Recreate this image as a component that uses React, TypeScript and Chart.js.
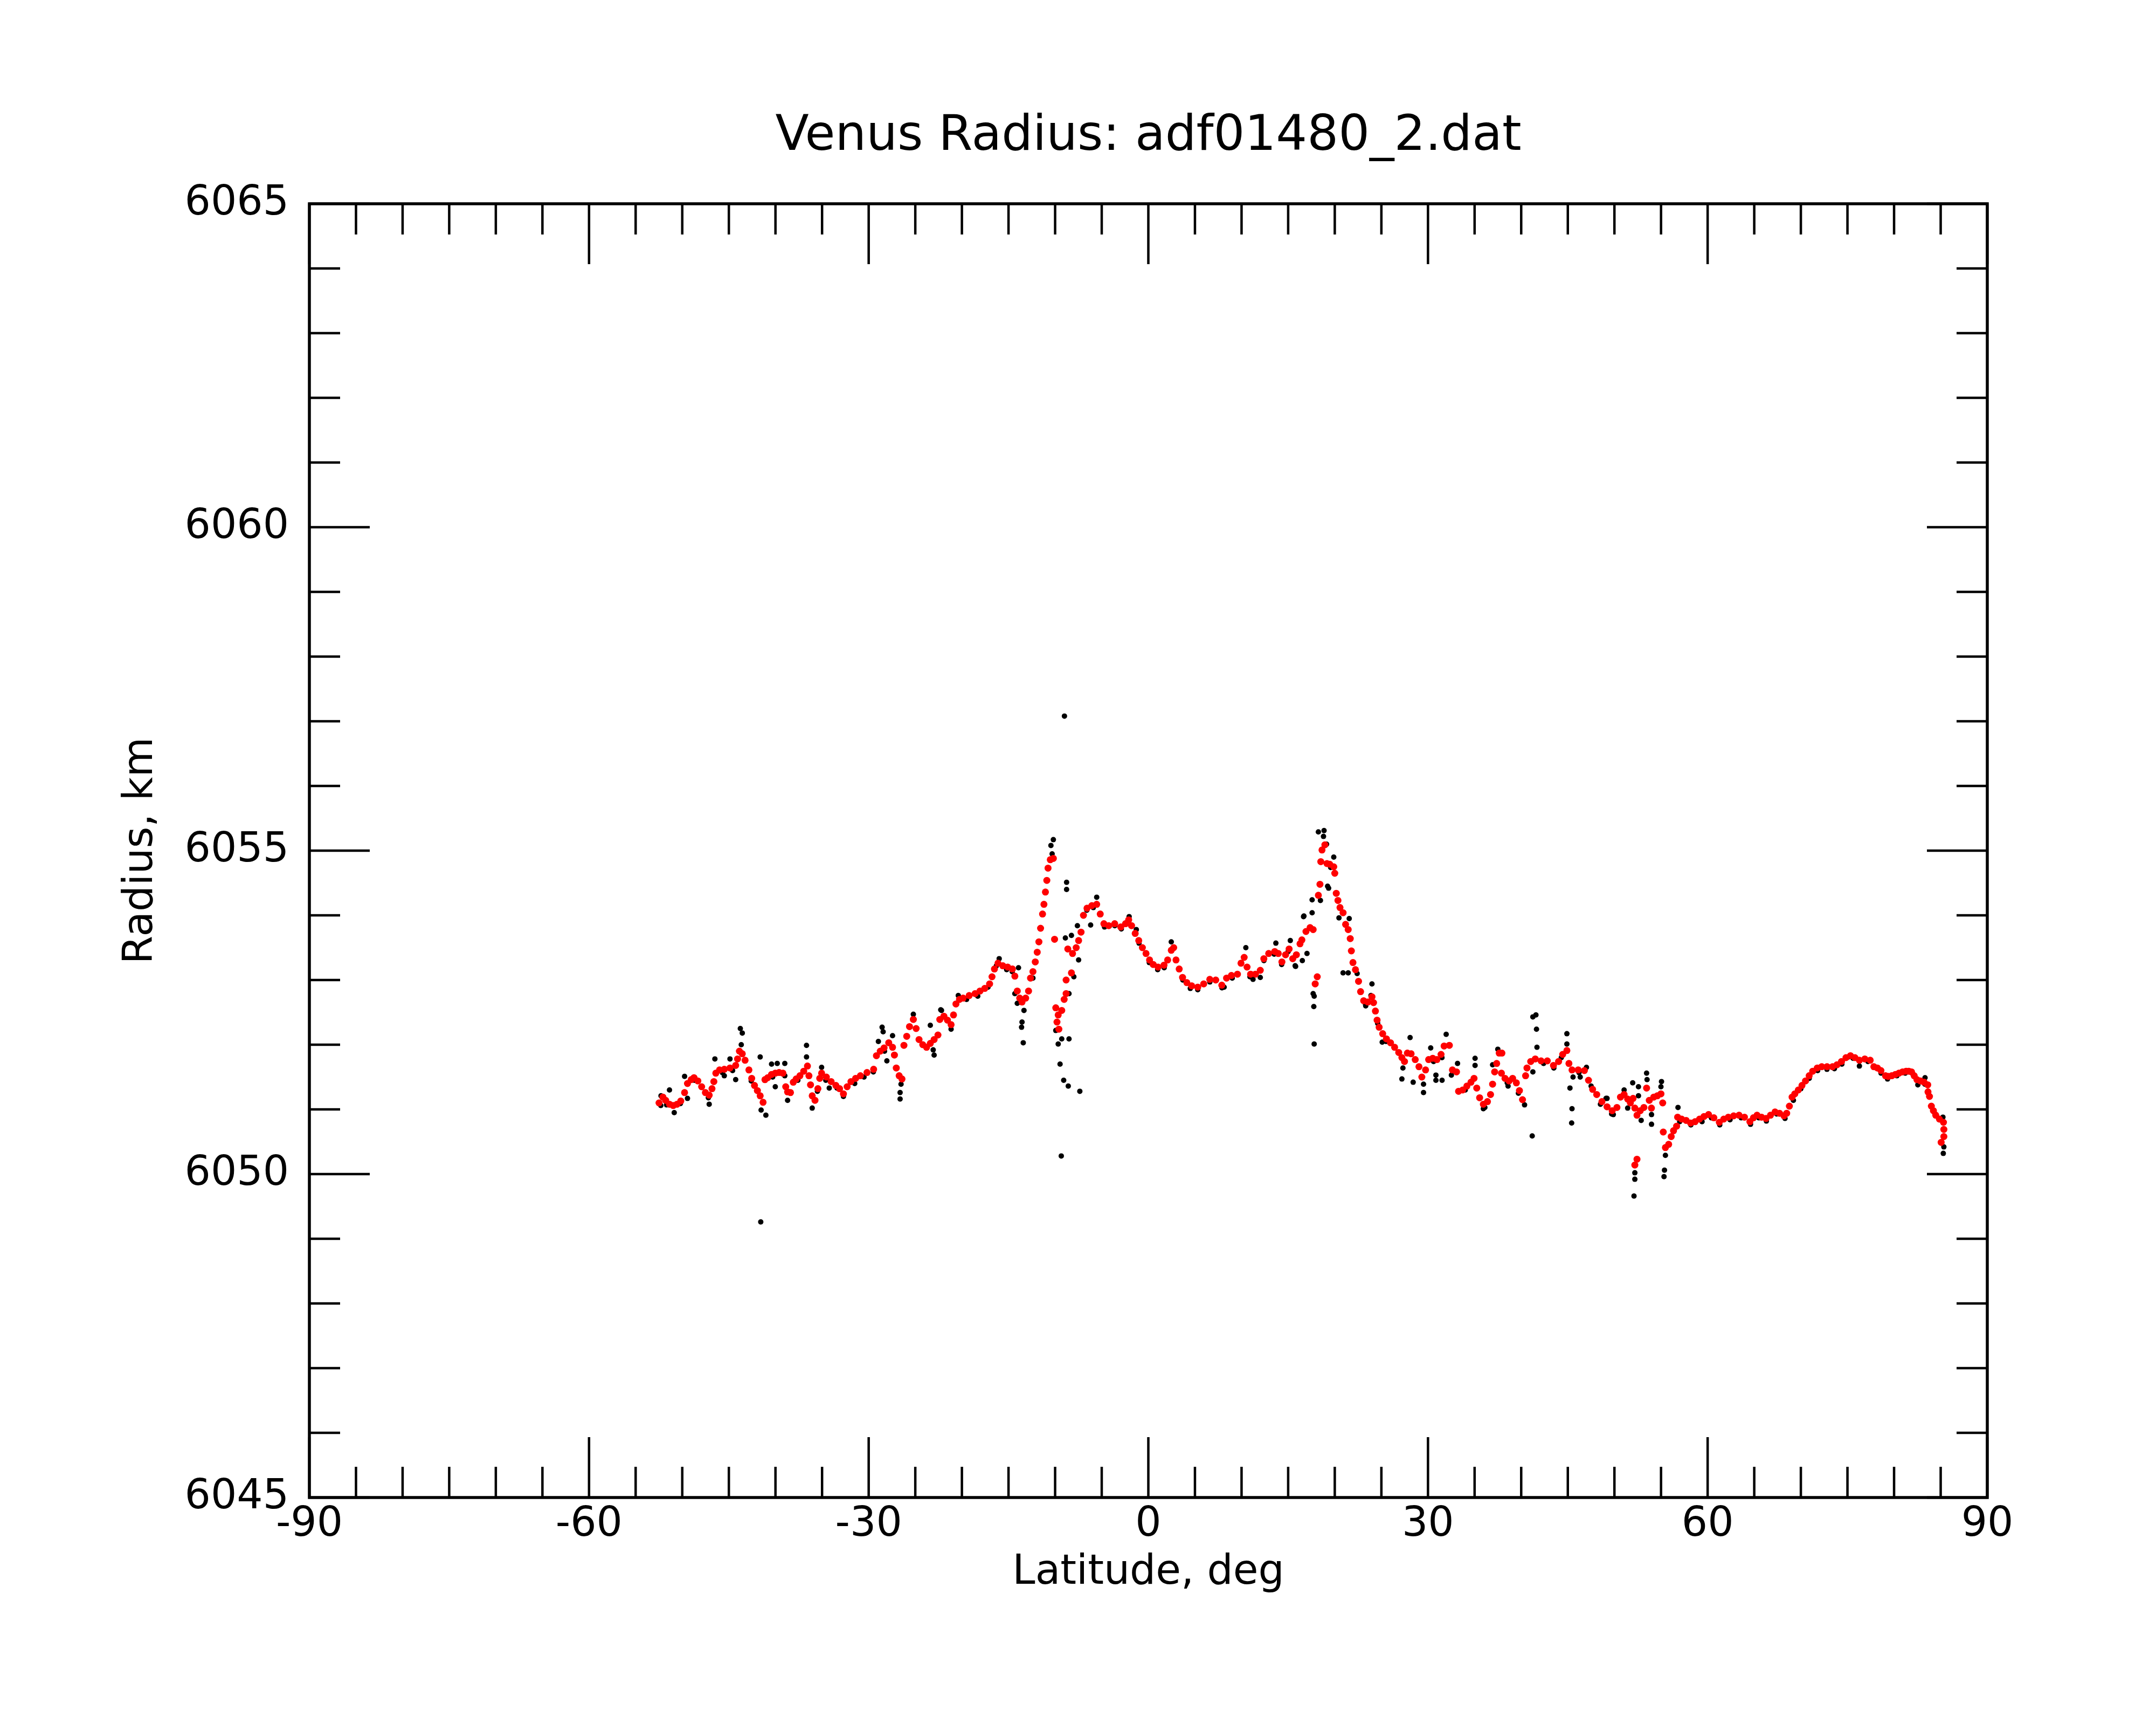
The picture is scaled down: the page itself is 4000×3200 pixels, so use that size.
import { useEffect, useRef } from 'react'
import { Chart, registerables } from 'chart.js'

Chart.register(...registerables)

// smoothed profile (red)
const redLat = [
  -52.49, -52.08, -51.78, -51.37, -50.97, -50.56, -50.16, -49.75, -49.44, -49.04,
  -48.74, -48.33, -47.92, -47.52, -47.11, -46.81, -46.61, -46.40, -46.00, -45.49,
  -44.88, -44.27, -44.07, -43.87, -43.56, -43.26, -42.85, -42.55, -42.25, -41.94,
  -41.64, -41.33, -41.13, -40.83, -40.42, -40.02, -39.61, -39.20, -38.90, -38.70,
  -38.39, -38.09, -37.78, -37.38, -36.97, -36.57, -36.41, -36.24, -36.06, -35.76,
  -35.45, -35.25, -35.05, -34.54, -34.03, -33.52, -33.12, -32.71, -32.31, -31.90,
  -31.40, -30.89, -30.18, -29.47, -29.17, -28.76, -28.35, -27.85, -27.44, -27.24,
  -27.04, -26.73, -26.43, -26.22, -25.92, -25.62, -25.21, -24.91, -24.60, -24.20,
  -23.79, -23.39, -22.98, -22.57, -22.37, -21.93, -21.55, -21.16, -20.90, -20.64,
  -20.26, -19.87, -19.22, -18.58, -18.06, -17.55, -17.03, -16.77, -16.51, -16.13,
  -15.61, -15.09, -14.58, -14.32, -14.06, -13.80, -13.55, -13.16, -12.85, -12.64,
  -12.38, -12.13, -11.92, -11.74, -11.56, -11.35, -11.20, -11.04, -10.89, -10.76,
  -10.52, -10.19, -10.06, -9.93, -9.80, -9.67, -9.60, -9.29, -9.03, -8.82,
  -8.82, -8.64, -8.25, -8.13, -7.74, -7.48, -7.22, -6.96, -6.58, -6.06,
  -5.54, -5.16, -4.77, -4.25, -3.61, -2.96, -2.45, -2.11, -1.80, -1.41,
  -1.03, -0.64, -0.25, 0.13, 0.52, 1.04, 1.68, 2.07, 2.46, 2.72,
  2.97, 3.31, 3.67, 4.13, 4.65, 5.30, 5.94, 6.59, 7.23, 7.88,
  8.39, 8.91, 9.56, 9.94, 10.28, 10.59, 10.97, 11.49, 12.01, 12.39,
  12.91, 13.56, 13.94, 14.33, 14.72, 15.10, 15.49, 15.88, 16.27, 16.47,
  16.91, 17.35, 17.68, 17.90, 18.12, 18.24, 18.41, 18.50, 18.63, 18.94,
  19.16, 19.45, 19.89, 20.00, 20.16, 20.34, 20.56, 20.89, 21.16, 21.44,
  21.66, 21.78, 21.95, 22.22, 22.55, 22.77, 23.10, 23.55, 23.99, 24.16,
  24.36, 24.54, 24.76, 25.14, 25.54, 25.98, 26.42, 26.86, 27.20, 27.48,
  27.79, 28.19, 28.63, 29.03, 29.34, 29.74, 30.07, 30.51, 30.96, 31.40,
  31.73, 32.29, 32.62, 33.06, 33.28, 33.72, 34.17, 34.61, 34.94, 35.23,
  35.54, 35.94, 36.38, 36.71, 36.93, 37.15, 37.37, 37.64, 37.93, 37.88,
  38.26, 38.70, 39.08, 39.48, 39.81, 40.14, 40.47, 40.62, 41.02, 41.51,
  42.13, 42.80, 43.46, 44.01, 44.45, 44.90, 45.12, 45.45, 46.11, 46.78,
  47.22, 47.66, 48.10, 48.66, 49.21, 49.76, 50.27, 50.65, 51.04, 51.42,
  51.71, 52.00, 52.19, 52.42, 52.77, 53.16, 53.45, 53.74, 53.97, 54.22,
  54.60, 54.99, 55.18, 52.19, 52.42, 55.24, 55.47, 55.82, 56.09, 56.34,
  56.67, 56.78, 57.21, 57.69, 58.17, 58.65, 59.13, 59.61, 60.10, 60.67,
  61.25, 61.73, 62.22, 62.79, 63.37, 63.95, 64.53, 64.91, 65.30, 65.78,
  66.26, 66.74, 67.23, 67.71, 68.19, 68.48, 68.77, 69.06, 69.35, 69.73,
  70.12, 70.50, 70.89, 71.27, 71.76, 72.24, 72.81, 73.40, 73.88, 74.36,
  74.84, 75.32, 75.80, 76.28, 76.86, 77.44, 77.83, 78.21, 78.59, 79.08,
  79.37, 79.75, 80.14, 80.52, 80.91, 81.29, 81.58, 81.87, 82.16, 82.45,
  82.83, 83.22, 83.61, 83.64, 83.80, 84.00, 84.22, 84.47, 84.86, 85.30,
  85.34, 85.34, 85.05,
]
const redRadius = [
  6051.10, 6051.19, 6051.14, 6051.08, 6051.06, 6051.08, 6051.13, 6051.26, 6051.40, 6051.46,
  6051.49, 6051.44, 6051.35, 6051.26, 6051.22, 6051.32, 6051.43, 6051.56, 6051.61, 6051.62,
  6051.64, 6051.68, 6051.78, 6051.90, 6051.86, 6051.76, 6051.61, 6051.48, 6051.37, 6051.29,
  6051.21, 6051.11, 6051.46, 6051.49, 6051.54, 6051.56, 6051.57, 6051.56, 6051.35, 6051.27,
  6051.26, 6051.42, 6051.47, 6051.52, 6051.59, 6051.67, 6051.52, 6051.38, 6051.21, 6051.14,
  6051.32, 6051.48, 6051.56, 6051.50, 6051.43, 6051.37, 6051.32, 6051.24, 6051.35, 6051.43,
  6051.48, 6051.52, 6051.57, 6051.62, 6051.83, 6051.90, 6051.95, 6052.03, 6051.96, 6051.84,
  6051.64, 6051.52, 6051.47, 6051.99, 6052.13, 6052.28, 6052.39, 6052.25, 6052.08, 6052.00,
  6051.96, 6052.02, 6052.08, 6052.15, 6052.39, 6052.44, 6052.38, 6052.31, 6052.46, 6052.63,
  6052.70, 6052.72, 6052.76, 6052.79, 6052.83, 6052.87, 6052.94, 6053.05, 6053.17, 6053.26,
  6053.22, 6053.20, 6053.17, 6053.06, 6052.83, 6052.72, 6052.66, 6052.72, 6052.83, 6053.03,
  6053.13, 6053.28, 6053.43, 6053.59, 6053.80, 6054.02, 6054.17, 6054.36, 6054.54, 6054.73,
  6054.86, 6054.88, 6053.63, 6052.57, 6052.35, 6052.46, 6052.24, 6052.53, 6052.70, 6052.79,
  6053.00, 6053.48, 6053.11, 6053.41, 6053.50, 6053.61, 6053.74, 6054.00, 6054.11, 6054.15,
  6054.17, 6054.02, 6053.87, 6053.84, 6053.87, 6053.82, 6053.87, 6053.93, 6053.84, 6053.72,
  6053.61, 6053.50, 6053.41, 6053.31, 6053.24, 6053.20, 6053.23, 6053.31, 6053.46, 6053.50,
  6053.31, 6053.17, 6053.04, 6052.96, 6052.91, 6052.89, 6052.94, 6053.01, 6053.00, 6052.92,
  6053.03, 6053.07, 6053.09, 6053.26, 6053.35, 6053.20, 6053.09, 6053.09, 6053.15, 6053.33,
  6053.41, 6053.44, 6053.41, 6053.28, 6053.39, 6053.48, 6053.33, 6053.39, 6053.56, 6053.62,
  6053.75, 6053.81, 6053.78, 6052.94, 6053.05, 6054.31, 6054.48, 6054.83, 6055.01, 6055.09,
  6054.80, 6054.79, 6054.75, 6054.65, 6054.34, 6054.23, 6054.12, 6054.04, 6053.86, 6053.78,
  6053.64, 6053.45, 6053.27, 6053.16, 6052.98, 6052.82, 6052.68, 6052.66, 6052.74, 6052.65,
  6052.52, 6052.38, 6052.27, 6052.17, 6052.09, 6052.03, 6051.96, 6051.88, 6051.80, 6051.74,
  6051.87, 6051.86, 6051.77, 6051.66, 6051.50, 6051.61, 6051.77, 6051.79, 6051.77, 6051.85,
  6051.98, 6051.99, 6051.61, 6051.58, 6051.28, 6051.30, 6051.36, 6051.42, 6051.48, 6051.33,
  6051.18, 6051.08, 6051.12, 6051.23, 6051.39, 6051.58, 6051.71, 6051.87, 6051.87, 6051.56,
  6051.48, 6051.44, 6051.48, 6051.41, 6051.29, 6051.15, 6051.52, 6051.64, 6051.74, 6051.78,
  6051.75, 6051.75, 6051.68, 6051.74, 6051.85, 6051.91, 6051.71, 6051.61, 6051.61, 6051.60,
  6051.45, 6051.31, 6051.23, 6051.12, 6051.04, 6050.98, 6051.03, 6051.19, 6051.23, 6051.16,
  6051.10, 6051.17, 6051.02, 6050.91, 6050.98, 6051.03, 6051.33, 6051.14, 6051.02, 6051.19,
  6051.21, 6051.24, 6051.10, 6050.14, 6050.23, 6050.65, 6050.41, 6050.46, 6050.58, 6050.67,
  6050.74, 6050.88, 6050.85, 6050.83, 6050.79, 6050.81, 6050.85, 6050.89, 6050.92, 6050.87,
  6050.80, 6050.85, 6050.88, 6050.90, 6050.91, 6050.88, 6050.81, 6050.87, 6050.91, 6050.88,
  6050.86, 6050.91, 6050.96, 6050.94, 6050.90, 6050.94, 6051.05, 6051.19, 6051.24, 6051.30,
  6051.37, 6051.44, 6051.52, 6051.59, 6051.64, 6051.66, 6051.66, 6051.66, 6051.69, 6051.74,
  6051.80, 6051.83, 6051.80, 6051.76, 6051.78, 6051.76, 6051.66, 6051.64, 6051.60, 6051.52,
  6051.51, 6051.52, 6051.54, 6051.56, 6051.58, 6051.59, 6051.59, 6051.58, 6051.52, 6051.46,
  6051.44, 6051.42, 6051.38, 6051.27, 6051.20, 6051.05, 6050.98, 6050.91, 6050.85, 6050.80,
  6050.69, 6050.58, 6050.49,
]

// raw measurements (black)
const blackLat = [
  -52.30, -51.68, -52.28, -51.37, -50.86, -50.20, -49.75, -49.44, -48.70, -47.11,
  -47.20, -46.50, -45.70, -45.49, -44.88, -44.60, -44.27, -43.77, -43.67, -43.56,
  -42.60, -41.64, -41.58, -41.54, -41.03, -40.42, -40.30, -40.02, -39.81, -39.00,
  -39.00, -38.70, -37.60, -36.67, -36.67, -36.06, -35.50, -35.05, -34.60, -34.23,
  -33.40, -32.71, -31.50, -30.50, -29.50, -28.96, -28.56, -28.45, -28.30, -28.05,
  -27.44, -26.63, -26.63, -26.53, -25.21, -23.39, -23.08, -22.98, -22.27, -22.19,
  -21.16, -20.39, -19.50, -18.30, -17.20, -16.30, -16.00, -15.20, -14.60, -14.32,
  -14.06, -13.93, -13.60, -13.55, -13.42, -13.34, -12.38, -10.45, -10.32, -10.19,
  -9.93, -9.67, -9.47, -9.34, -9.29, -9.08, -9.00, -8.90, -8.77, -8.77,
  -8.59, -8.51, -8.51, -8.25, -7.99, -7.61, -7.48, -7.35, -6.60, -6.19,
  -5.90, -5.54, -4.70, -3.60, -2.90, -2.06, -1.29, -1.00, 0.10, 1.00,
  1.70, 2.46, 3.70, 4.50, 5.30, 6.60, 7.90, 8.13, 9.00, 10.46,
  10.90, 11.23, 12.01, 12.40, 13.50, 13.68, 14.30, 15.00, 15.23, 15.75,
  15.80, 16.52, 16.65, 16.69, 17.02, 17.57, 17.57, 17.68, 17.75, 17.79,
  17.79, 18.24, 18.46, 18.79, 18.85, 19.12, 19.23, 19.34, 19.56, 19.89,
  20.45, 20.89, 21.44, 21.55, 22.40, 23.30, 23.32, 23.88, 23.99, 24.60,
  25.09, 25.50, 27.20, 27.31, 28.08, 28.41, 29.52, 29.52, 30.29, 30.60,
  30.85, 30.85, 31.51, 31.50, 31.95, 32.51, 33.17, 34.00, 35.05, 35.05,
  35.94, 36.10, 36.93, 37.49, 38.50, 38.59, 39.70, 40.36, 41.18, 41.25,
  41.25, 41.58, 41.64, 41.69, 42.40, 43.50, 44.30, 44.90, 44.90, 45.23,
  45.41, 45.45, 45.56, 46.20, 46.33, 47.00, 47.50, 48.50, 49.10, 49.21,
  49.70, 49.88, 51.04, 51.42, 51.96, 52.10, 52.19, 52.19, 52.58, 52.58,
  52.87, 53.45, 53.50, 53.98, 53.98, 54.99, 55.05, 55.32, 55.37, 55.47,
  56.82, 57.00, 58.20, 59.40, 60.40, 61.30, 62.40, 63.60, 64.60, 65.50,
  66.30, 67.40, 68.30, 69.20, 70.00, 70.90, 71.80, 72.80, 73.60, 74.40,
  75.10, 75.60, 76.28, 77.20, 78.60, 79.30, 80.30, 81.20, 82.00, 82.55,
  83.30, 83.32, 84.40, 85.24, 85.34, 85.28,
]
const blackRadius = [
  6051.06, 6051.07, 6051.21, 6051.30, 6050.95, 6051.09, 6051.51, 6051.17, 6051.45, 6051.08,
  6051.18, 6051.78, 6051.57, 6051.52, 6051.78, 6051.60, 6051.46, 6052.25, 6052.00, 6052.18,
  6051.44, 6051.81, 6049.26, 6050.99, 6050.91, 6051.70, 6051.50, 6051.35, 6051.71, 6051.71,
  6051.52, 6051.14, 6051.45, 6051.99, 6051.81, 6051.02, 6051.28, 6051.65, 6051.45, 6051.33,
  6051.33, 6051.20, 6051.40, 6051.50, 6051.58, 6052.05, 6052.27, 6052.20, 6051.90, 6051.75,
  6052.14, 6051.26, 6051.16, 6051.39, 6052.47, 6052.30, 6051.92, 6051.84, 6052.54, 6052.53,
  6052.24, 6052.76, 6052.70, 6052.75, 6052.89, 6053.22, 6053.33, 6053.16, 6053.13, 6052.79,
  6052.64, 6053.19, 6052.27, 6052.35, 6052.03, 6052.53, 6053.03, 6055.08, 6054.95, 6055.17,
  6052.22, 6052.01, 6051.70, 6050.28, 6052.09, 6051.45, 6057.08, 6053.65, 6054.51, 6054.40,
  6051.36, 6052.09, 6052.79, 6053.69, 6053.05, 6053.84, 6053.31, 6051.28, 6054.08, 6053.85,
  6054.12, 6054.28, 6053.82, 6053.84, 6053.79, 6053.98, 6053.78, 6053.57, 6053.27, 6053.16,
  6053.19, 6053.59, 6053.00, 6052.87, 6052.85, 6052.97, 6052.88, 6052.89, 6053.03, 6053.50,
  6053.05, 6053.01, 6053.04, 6053.30, 6053.40, 6053.57, 6053.24, 6053.44, 6053.61, 6053.22,
  6053.21, 6053.30, 6053.98, 6053.99, 6053.41, 6054.24, 6054.04, 6052.79, 6052.59, 6052.75,
  6052.01, 6055.29, 6054.23, 6055.22, 6055.31, 6055.10, 6054.45, 6054.42, 6054.74, 6054.90,
  6053.96, 6053.11, 6053.11, 6053.95, 6053.10, 6052.62, 6052.60, 6052.76, 6052.94, 6052.33,
  6052.04, 6052.05, 6051.47, 6051.64, 6052.11, 6051.42, 6051.26, 6051.39, 6051.95, 6051.74,
  6051.53, 6051.45, 6051.45, 6051.80, 6052.16, 6051.53, 6051.71, 6051.30, 6051.79, 6051.68,
  6051.01, 6051.03, 6051.69, 6051.93, 6051.41, 6051.36, 6051.25, 6051.07, 6050.59, 6052.43,
  6051.58, 6052.46, 6052.24, 6051.96, 6051.71, 6051.64, 6051.80, 6052.17, 6052.01, 6051.33,
  6050.79, 6051.01, 6051.50, 6051.57, 6051.50, 6051.65, 6051.36, 6051.08, 6051.17, 6051.17,
  6050.93, 6050.92, 6051.30, 6051.02, 6051.41, 6049.66, 6050.02, 6049.92, 6051.35, 6051.21,
  6050.83, 6051.56, 6051.46, 6050.92, 6050.77, 6051.35, 6051.43, 6049.96, 6050.06, 6050.29,
  6051.03, 6050.81, 6050.76, 6050.81, 6050.87, 6050.76, 6050.84, 6050.87, 6050.77, 6050.87,
  6050.82, 6050.93, 6050.86, 6051.14, 6051.32, 6051.48, 6051.60, 6051.62, 6051.63, 6051.70,
  6051.81, 6051.79, 6051.67, 6051.74, 6051.56, 6051.47, 6051.52, 6051.56, 6051.55, 6051.38,
  6051.39, 6051.49, 6050.93, 6050.88, 6050.42, 6050.32,
]

const latTicks = [-90, -60, -30, 0, 30, 60, 90]
const radiusTicks = [6045, 6050, 6055, 6060, 6065]

const FONT = 'DejaVu Sans'

// frame and inward ticks on all four sides, like the original plot
const framePlugin = {
  id: 'frame',
  afterDatasetsDraw(chart: any) {
    const { ctx, chartArea: a, scales } = chart
    const x = scales.x
    const y = scales.y
    ctx.save()
    ctx.strokeStyle = '#000'
    ctx.lineWidth = 4.5
    ctx.beginPath()
    for (let v = x.min; v <= x.max; v += 5) {
      const px = x.getPixelForValue(v)
      const len = v % 30 === 0 ? 112 : 57
      ctx.moveTo(px, a.bottom)
      ctx.lineTo(px, a.bottom - len)
      ctx.moveTo(px, a.top)
      ctx.lineTo(px, a.top + len)
    }
    for (let v = y.min; v <= y.max; v += 1) {
      const py = y.getPixelForValue(v)
      const len = v % 5 === 0 ? 112 : 57
      ctx.moveTo(a.left, py)
      ctx.lineTo(a.left + len, py)
      ctx.moveTo(a.right, py)
      ctx.lineTo(a.right - len, py)
    }
    ctx.stroke()
    ctx.lineWidth = 5.5
    ctx.strokeRect(a.left, a.top, a.right - a.left, a.bottom - a.top)
    ctx.restore()
  },
}

export default function App() {
  const ref = useRef<HTMLCanvasElement | null>(null)

  useEffect(() => {
    document.body.style.margin = '0'
    if (!ref.current) return
    Chart.defaults.font.family = FONT
    Chart.defaults.color = '#000'

    const chart = new Chart(ref.current, {
      type: 'scatter',
      data: {
        datasets: [
          {
            label: 'smoothed',
            data: redLat.map((lat, i) => ({ x: lat, y: redRadius[i] })),
            pointRadius: 6.5,
            pointBackgroundColor: '#ff0000',
            pointBorderWidth: 0,
            showLine: false,
          },
          {
            label: 'raw',
            data: blackLat.map((lat, i) => ({ x: lat, y: blackRadius[i] })),
            pointRadius: 5,
            pointBackgroundColor: '#000000',
            pointBorderWidth: 0,
            showLine: false,
          },
        ],
      },
      options: {
        animation: false,
        responsive: false,
        devicePixelRatio: 1,
        layout: { padding: { left: 0, right: 313, top: 0, bottom: 0 } },
        plugins: {
          legend: { display: false },
          tooltip: { enabled: false },
          title: {
            display: true,
            text: 'Venus Radius: adf01480_2.dat',
            fullSize: false,
            color: '#000',
            font: { family: FONT, size: 91, weight: 'normal' },
            padding: { top: 200, bottom: 68.8 },
          },
        },
        scales: {
          x: {
            type: 'linear',
            min: -90,
            max: 90,
            afterBuildTicks: (s: any) => {
              s.ticks = latTicks.map((v) => ({ value: v }))
            },
            afterFit: (s: any) => {
              s.height = 422
            },
            grid: { display: false, drawTicks: false },
            border: { display: false },
            ticks: {
              autoSkip: false,
              maxRotation: 0,
              padding: 6,
              color: '#000',
              font: { family: FONT, size: 76 },
              callback: (v: any) => String(v),
            },
            title: {
              display: true,
              text: 'Latitude, deg',
              color: '#000',
              font: { family: FONT, size: 76 },
              padding: { top: 0, bottom: 236 },
            },
          },
          y: {
            type: 'linear',
            min: 6045,
            max: 6065,
            afterBuildTicks: (s: any) => {
              s.ticks = radiusTicks.map((v) => ({ value: v }))
            },
            afterFit: (s: any) => {
              s.width = 574
            },
            grid: { display: false, drawTicks: false },
            border: { display: false },
            ticks: {
              autoSkip: false,
              padding: 38,
              color: '#000',
              font: { family: FONT, size: 76 },
              callback: (v: any) => String(v),
            },
            title: {
              display: true,
              text: 'Radius, km',
              color: '#000',
              font: { family: FONT, size: 76 },
              padding: { top: 217, bottom: 0 },
            },
          },
        },
      },
      plugins: [framePlugin],
    })
    return () => chart.destroy()
  }, [])

  return (
    <div style={{ width: 4000, height: 3200, background: '#fff' }}>
      <canvas ref={ref} width={4000} height={3200} style={{ display: 'block', width: 4000, height: 3200 }} />
    </div>
  )
}
